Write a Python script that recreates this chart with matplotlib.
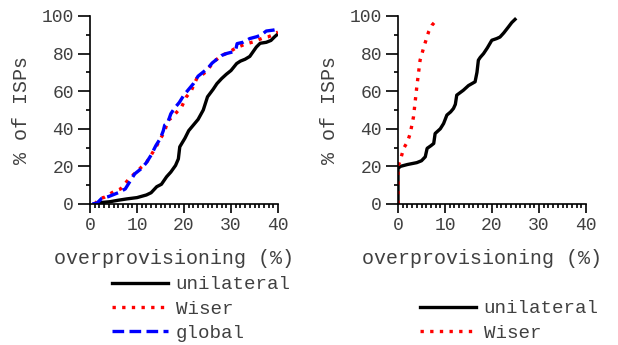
import matplotlib
matplotlib.use("Agg")
import matplotlib.pyplot as plt
from matplotlib.ticker import MultipleLocator

plt.rcParams["font.family"] = ["Liberation Mono", "DejaVu Sans Mono"]
TXT = "#404040"

# left panel: CDF of overprovisioning
uni_l_x = [2, 4.2, 6, 7.8, 10, 12, 13, 14.2, 15.2, 16.3, 17.2, 18.2, 18.8, 19.1, 19.6,
           20.2, 21, 22, 23, 24.1, 25, 26.2, 27, 28, 29, 30, 31.2, 32, 33, 34,
           35.4, 36.2, 37.5, 38.5, 39.3, 40]
uni_l_y = [0.7, 1.2, 2, 2.7, 3.4, 4.8, 6, 9.2, 10.5, 14.5, 17, 20.5, 24, 30.4, 32.5,
           35, 39, 42, 45, 50, 57, 61, 64, 66.7, 69, 71, 74.7, 76, 77, 78.5,
           83.5, 85.5, 86, 87, 89, 90.5]

wis_l_x = [1, 2.1, 3, 5, 6.5, 7.8, 8.5, 9.9, 11, 12, 13, 14.2, 15, 15.8, 16.6, 17.5,
           18.5, 19.5, 20.5, 21.5, 22.7, 24, 25, 26.2, 27, 28, 29.7, 31, 32, 33,
           34.7, 36, 37, 38, 39, 40]
wis_l_y = [0, 3, 3.5, 6.5, 8, 11.9, 14, 17, 19.8, 22, 26, 31, 34.9, 38, 44.6, 46,
           49, 51.7, 57, 60, 66.7, 69, 71, 75.6, 77, 79, 80.9, 83, 84, 85,
           86.2, 87.5, 88.5, 89, 90, 91.5]

glb_l_x = [0.5, 1.5, 2.5, 4, 6, 7.5, 8.5, 9.5, 11, 12, 13, 14, 15, 15.6, 15.9, 16.5,
           17.2, 18, 19, 20, 21, 22, 23, 24, 25, 26, 27, 28, 29, 30.5, 31,
           31.3, 32.5, 34, 35.5, 36.5, 37.5, 39, 40]
glb_l_y = [0, 0.5, 3, 4, 6, 8, 12, 16, 19, 22, 26, 31, 35, 39, 42, 43,
           48, 51, 54, 58, 61, 64, 68, 70, 72, 75, 77, 79, 80, 81, 82,
           85.3, 86, 88, 89, 90, 92, 92.5, 93]

# right panel
uni_r_x = [0, 0, 0.5, 2, 4, 5, 5.8, 6.2, 7, 7.6, 7.9, 9, 9.7, 10.4, 11.2, 11.8,
           12.2, 12.5, 13.9, 15, 16.4, 16.8, 17.1, 17.5, 18.2, 19, 19.96, 21,
           21.7, 22.5, 23.5, 24.2, 24.9]
uni_r_y = [0, 18.9, 20, 21, 22, 23, 25.1, 29.6, 31, 32.2, 37.5, 40, 42.8, 47.3, 49, 50.8,
           53, 57.9, 60.5, 63, 65, 70, 76.5, 78, 80, 83, 87.1, 88,
           88.8, 91, 94.2, 96.5, 98.2]

wis_r_x = [0, 0, 0.5, 1.2, 2, 2.6, 3.3, 4.0, 4.7, 5.5, 6.5, 7.2, 8.3]
wis_r_y = [0, 20, 23.4, 29.6, 33, 37.5, 46.4, 62.3, 76.5, 83.5, 91.5, 95, 98.2]

fig = plt.figure(figsize=(6.18, 3.45), dpi=100)
ax1 = fig.add_axes([90/618, 1 - 204/345, 188/618, 188/345])
ax2 = fig.add_axes([398/618, 1 - 204/345, 188/618, 188/345])

lw = 2.4
dot = (0, (1, 1.9))
dash = (0, (3.5, 1.6))
ax1.plot(uni_l_x, uni_l_y, color="black", lw=lw, label="unilateral")
ax1.plot(wis_l_x, wis_l_y, color="red", lw=lw, ls=dot, label="Wiser")
ax1.plot(glb_l_x, glb_l_y, color="blue", lw=lw, ls=dash, label="global")

ax2.plot(uni_r_x, uni_r_y, color="black", lw=lw, label="unilateral")
ax2.plot(wis_r_x, wis_r_y, color="red", lw=lw, ls=dot, label="Wiser")

for ax in (ax1, ax2):
    ax.set_xlim(0, 40)
    ax.set_ylim(0, 100)
    ax.spines["top"].set_visible(False)
    ax.spines["right"].set_visible(False)
    ax.spines["left"].set_linewidth(1.2)
    ax.spines["bottom"].set_linewidth(1.2)
    ax.xaxis.set_major_locator(MultipleLocator(10))
    ax.xaxis.set_minor_locator(MultipleLocator(1))
    ax.yaxis.set_major_locator(MultipleLocator(20))
    ax.yaxis.set_minor_locator(MultipleLocator(10))
    ax.tick_params(which="major", labelsize=13, labelcolor=TXT, length=6.5, width=1.2, pad=3)
    ax.tick_params(axis="y", which="major", length=8.6)
    ax.tick_params(which="minor", length=3, width=1.2)
    ax.set_xlabel("overprovisioning (%)", fontsize=14.4, color=TXT, labelpad=11)
    ax.xaxis.label.set_x(0.447)
    ax.set_ylabel("% of ISPs", fontsize=14.4, color=TXT, labelpad=8)

leg_kw = dict(bbox_transform=fig.transFigure, loc="upper left", frameon=False,
              fontsize=13.8, labelcolor=TXT, handlelength=2.9, handletextpad=0.42,
              labelspacing=0.36, borderaxespad=0, borderpad=0)
ax1.legend(bbox_to_anchor=(112/618, 1 - 276/345), **leg_kw)
ax2.legend(bbox_to_anchor=(420/618, 1 - 300/345), **leg_kw)

fig.savefig("out.png", dpi=100)
